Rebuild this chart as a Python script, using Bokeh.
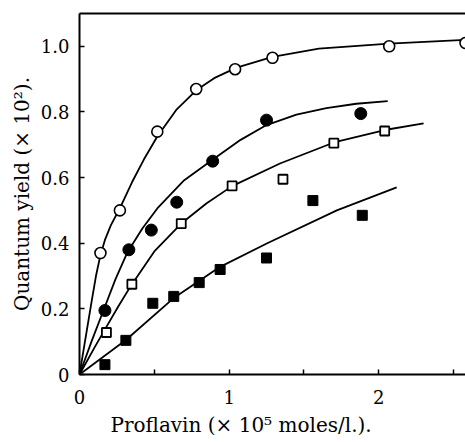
from bokeh.plotting import figure
from bokeh.models import FixedTicker, LinearAxis, Title, Range1d
from bokeh.embed import file_html
from bokeh.resources import INLINE

# Data
oc_x = [0.14, 0.27, 0.52, 0.78, 1.04, 1.29, 2.07, 2.58]
oc_y = [0.37, 0.50, 0.74, 0.87, 0.93, 0.965, 1.00, 1.01]
fc_x = [0.17, 0.33, 0.48, 0.65, 0.89, 1.25, 1.88]
fc_y = [0.195, 0.38, 0.44, 0.525, 0.65, 0.775, 0.795]
os_x = [0.18, 0.35, 0.68, 1.02, 1.36, 1.70, 2.04]
os_y = [0.128, 0.275, 0.46, 0.575, 0.595, 0.705, 0.742]
fs_x = [0.17, 0.31, 0.49, 0.63, 0.80, 0.94, 1.25, 1.56, 1.89]
fs_y = [0.03, 0.104, 0.217, 0.238, 0.28, 0.32, 0.355, 0.53, 0.485]

# Fitted curves
oc_cx = [0, 0.04, 0.08, 0.11, 0.138, 0.17, 0.21, 0.268, 0.35, 0.43, 0.52, 0.65, 0.78,
         0.90, 1.05, 1.29, 1.60, 2.07, 2.58]
oc_cy = [0, 0.11, 0.22, 0.30, 0.36, 0.41, 0.455, 0.505, 0.585, 0.655, 0.725, 0.808, 0.866,
         0.903, 0.935, 0.968, 0.993, 1.008, 1.02]
fc_cx = [0, 0.08, 0.16, 0.24, 0.32, 0.42, 0.52, 0.70, 0.88, 1.077, 1.25, 1.45, 1.65, 1.85, 2.06]
fc_cy = [0, 0.10, 0.195, 0.29, 0.372, 0.445, 0.506, 0.592, 0.651, 0.715, 0.76, 0.792, 0.812, 0.825, 0.833]
os_cx = [0, 0.10, 0.176, 0.26, 0.343, 0.50, 0.68, 0.85, 1.02, 1.34, 1.70, 2.04, 2.30]
os_cy = [0, 0.082, 0.142, 0.208, 0.27, 0.375, 0.46, 0.522, 0.574, 0.643, 0.707, 0.745, 0.765]
fs_cx = [0, 0.312, 0.635, 0.94, 1.255, 1.72, 2.12]
fs_cy = [0, 0.106, 0.235, 0.328, 0.40, 0.50, 0.57]

x_ticks = [0, 1, 2]
x_tick_labels = ["0", "1", "2"]
x_minor = [0.5, 1.5, 2.5]
y_ticks = [0, 0.2, 0.4, 0.6, 0.8, 1.0]
y_tick_labels = ["0", "0.2", "0.4", "0.6", "0.8", "1.0"]

FONT = "DejaVu Serif"

p = figure(width=465, height=442, output_backend="svg", toolbar_location=None,
           x_range=Range1d(0, 2.58), y_range=Range1d(0, 1.10),
           min_border_left=79, min_border_right=0, min_border_top=13, min_border_bottom=68)
p.outline_line_color = None
p.grid.visible = False
p.background_fill_color = "white"
p.border_fill_color = "white"

for ax in (p.xaxis[0], p.yaxis[0]):
    ax.axis_line_width = 2
    ax.axis_line_color = "black"
    ax.major_tick_in = 5
    ax.major_tick_out = 0
    ax.minor_tick_in = 5
    ax.minor_tick_out = 0
    ax.major_tick_line_width = 1.5
    ax.minor_tick_line_width = 1.5
    ax.major_label_text_font = FONT
    ax.major_label_text_font_size = "18px"
    ax.major_label_text_color = "black"

p.xaxis[0].ticker = FixedTicker(ticks=x_ticks, minor_ticks=x_minor)
p.xaxis[0].major_label_overrides = {t: l for t, l in zip(x_ticks, x_tick_labels)}
p.xaxis[0].major_label_standoff = 15
p.yaxis[0].ticker = FixedTicker(ticks=y_ticks, minor_ticks=[])
p.yaxis[0].major_label_overrides = {t: l for t, l in zip(y_ticks, y_tick_labels)}
p.yaxis[0].major_label_standoff = 10
p.yaxis[0].axis_label = "Quantum yield (× 10²)."
p.yaxis[0].axis_label_text_font = FONT
p.yaxis[0].axis_label_text_font_size = "20px"
p.yaxis[0].axis_label_text_font_style = "normal"
p.yaxis[0].axis_label_text_color = "black"
p.yaxis[0].axis_label_standoff = 4

top = LinearAxis(ticker=FixedTicker(ticks=[]), axis_line_width=2, major_tick_out=0,
                 major_tick_in=0, minor_tick_out=0, major_label_text_font_size="0px")
p.add_layout(top, "above")

p.add_layout(Title(text="Proflavin (× 10⁵ moles/l.).", align="left", offset=31,
                   text_font=FONT, text_font_size="20px", text_font_style="normal",
                   text_color="black", standoff=8), "below")

lw = 1.8
p.line(oc_cx, oc_cy, line_color="black", line_width=lw)
p.line(fc_cx, fc_cy, line_color="black", line_width=lw)
p.line(os_cx, os_cy, line_color="black", line_width=lw)
p.line(fs_cx, fs_cy, line_color="black", line_width=lw)

p.scatter(oc_x, oc_y, marker="circle", size=11, fill_color="white", line_color="black", line_width=1.6)
p.scatter(fc_x, fc_y, marker="circle", size=12, fill_color="black", line_color="black")
p.scatter(os_x, os_y, marker="square", size=9, fill_color="white", line_color="black", line_width=1.8)
p.scatter(fs_x, fs_y, marker="square", size=10, fill_color="black", line_color="black")

open("out.html", "w").write(file_html(p, INLINE))
